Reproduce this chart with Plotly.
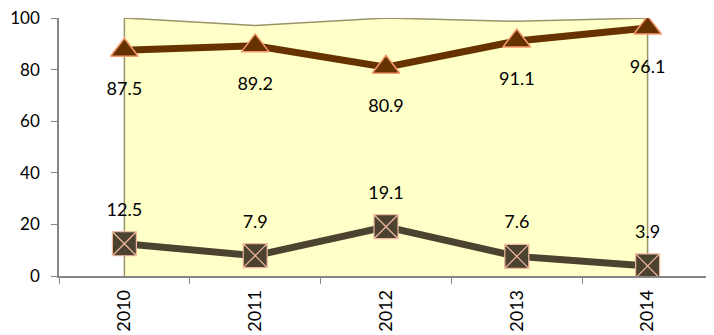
import plotly.graph_objects as go

years = ["2010", "2011", "2012", "2013", "2014"]
upper = [87.5, 89.2, 80.9, 91.1, 96.1]
lower = [12.5, 7.9, 19.1, 7.6, 3.9]
total = [100.0, 97.1, 100.0, 98.7, 100.0]
y_ticks = [0, 20, 40, 60, 80, 100]

font_family = "Lato, Carlito, sans-serif"
label_font = dict(family=font_family, size=18, color="#000000")

fig = go.Figure()

# yellow background area (closed polygon built from the data)
fig.add_trace(go.Scatter(
    x=[years[0]] + years + [years[-1]],
    y=[0] + total + [0],
    mode="lines",
    fill="toself",
    fillcolor="#FFFFC8",
    line=dict(color="#9A9468", width=1.5),
    hoverinfo="skip",
    showlegend=False,
))

fig.add_trace(go.Scatter(
    x=years, y=upper,
    mode="lines+markers",
    line=dict(color="#663300", width=7),
    marker=dict(symbol="triangle-up", size=24, color="#663300",
                line=dict(color="#F79A6E", width=1.5)),
    showlegend=False,
))

fig.add_trace(go.Scatter(
    x=years, y=lower,
    mode="lines+markers",
    line=dict(color="#4B4330", width=7),
    marker=dict(symbol="square-x", size=24, color="#4B4330",
                line=dict(color="#F2B8A0", width=1.2)),
    showlegend=False,
))

# data labels (transparent markers set the label offset)
fig.add_trace(go.Scatter(
    x=years, y=upper,
    mode="markers+text",
    marker=dict(size=48, color="rgba(0,0,0,0)"),
    text=[f"{v:.1f}" for v in upper],
    textposition="bottom center",
    textfont=label_font,
    hoverinfo="skip",
    showlegend=False,
))
fig.add_trace(go.Scatter(
    x=years, y=lower,
    mode="markers+text",
    marker=dict(size=36, color="rgba(0,0,0,0)"),
    text=[f"{v:.1f}" for v in lower],
    textposition="top center",
    textfont=label_font,
    hoverinfo="skip",
    showlegend=False,
))

fig.update_layout(
    width=706, height=327,
    margin=dict(l=51, r=1, t=10, b=59),
    paper_bgcolor="white",
    plot_bgcolor="white",
    font=dict(family=font_family, size=18, color="#000000"),
    xaxis=dict(
        type="category",
        range=[-0.5, 4.5],
        tickson="boundaries",
        ticks="outside", ticklen=6, tickcolor="#868686",
        showline=True, linecolor="#868686", linewidth=1.5,
        showgrid=False, zeroline=False,
        tickangle=-90,
        tickfont=dict(size=18),
        ticklabelstandoff=5,
        ticklabeloverflow="allow",
        automargin=False,
    ),
    yaxis=dict(
        range=[0, 100],
        tickvals=y_ticks,
        ticks="outside", ticklen=6, tickcolor="#868686",
        showline=True, linecolor="#868686", linewidth=1.5,
        showgrid=False, zeroline=False,
        tickfont=dict(size=17),
        ticklabelstandoff=8,
        ticklabeloverflow="allow",
        automargin=False,
    ),
)

fig.write_html("out.html")
